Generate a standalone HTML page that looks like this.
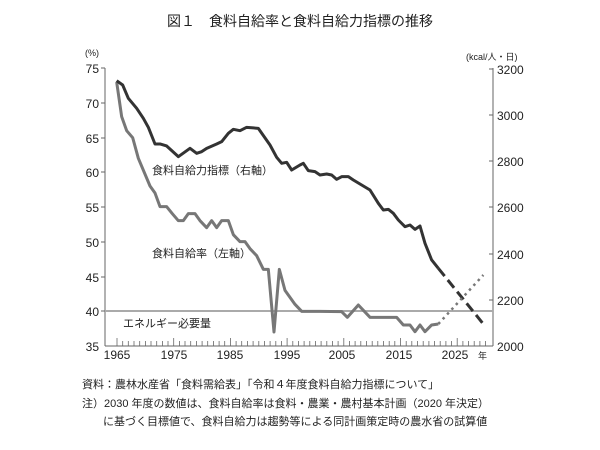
<!DOCTYPE html>
<html><head><meta charset="utf-8"><style>
body{margin:0;background:#fff;}
svg{display:block;font-family:"Liberation Sans","Noto Sans CJK JP",sans-serif;}
</style></head><body>
<svg width="600" height="450" viewBox="0 0 600 450" xmlns="http://www.w3.org/2000/svg">
<rect width="600" height="450" fill="#fff"/>
<text x="300" y="26" text-anchor="middle" font-size="14" fill="#222">図１　食料自給率と食料自給力指標の推移</text>
<line x1="105" y1="68" x2="105" y2="346" stroke="#666" stroke-width="1"/>
<line x1="493" y1="68" x2="493" y2="346" stroke="#666" stroke-width="1"/>
<line x1="105" y1="346" x2="493" y2="346" stroke="#666" stroke-width="1"/>
<g stroke="#666" stroke-width="1">
<line x1="101" y1="68" x2="105" y2="68"/><line x1="101" y1="103" x2="105" y2="103"/><line x1="101" y1="138" x2="105" y2="138"/><line x1="101" y1="172" x2="105" y2="172"/><line x1="101" y1="207" x2="105" y2="207"/><line x1="101" y1="242" x2="105" y2="242"/><line x1="101" y1="277" x2="105" y2="277"/><line x1="101" y1="311" x2="105" y2="311"/>
<line x1="489" y1="69" x2="493" y2="69"/><line x1="489" y1="115" x2="493" y2="115"/><line x1="489" y1="161" x2="493" y2="161"/><line x1="489" y1="207" x2="493" y2="207"/><line x1="489" y1="254" x2="493" y2="254"/><line x1="489" y1="300" x2="493" y2="300"/>
</g>
<path stroke="#666" stroke-width="0.8" fill="none" d="M117.0 338V346M122.7 341V346M128.3 341V346M134.0 341V346M139.7 341V346M145.4 341V346M151.0 341V346M156.7 341V346M162.4 341V346M168.0 341V346M173.7 338V346M179.4 341V346M185.0 341V346M190.7 341V346M196.4 341V346M202.1 341V346M207.7 341V346M213.4 341V346M219.1 341V346M224.7 341V346M230.4 338V346M236.1 341V346M241.7 341V346M247.4 341V346M253.1 341V346M258.8 341V346M264.4 341V346M270.1 341V346M275.8 341V346M281.4 341V346M287.1 338V346M292.8 341V346M298.4 341V346M304.1 341V346M309.8 341V346M315.5 341V346M321.1 341V346M326.8 341V346M332.5 341V346M338.1 341V346M343.8 338V346M349.5 341V346M355.1 341V346M360.8 341V346M366.5 341V346M372.2 341V346M377.8 341V346M383.5 341V346M389.2 341V346M394.8 341V346M400.5 338V346M406.2 341V346M411.8 341V346M417.5 341V346M423.2 341V346M428.9 341V346M434.5 341V346M440.2 341V346M445.9 341V346M451.5 341V346M457.2 338V346M462.9 341V346M468.5 341V346M474.2 341V346M479.9 341V346M485.6 341V346"/>
<g font-size="12" fill="#222" text-anchor="end">
<text x="99" y="73">75</text><text x="99" y="108">70</text><text x="99" y="143">65</text><text x="99" y="177">60</text><text x="99" y="212">55</text><text x="99" y="247">50</text><text x="99" y="282">45</text><text x="99" y="316">40</text><text x="99" y="351">35</text>
</g>
<g font-size="12" fill="#222">
<text x="497" y="74">3200</text><text x="497" y="120">3000</text><text x="497" y="166">2800</text><text x="497" y="212">2600</text><text x="497" y="259">2400</text><text x="497" y="305">2200</text><text x="497" y="351">2000</text>
</g>
<text x="85" y="56" font-size="9" fill="#222">(%)</text>
<text x="466" y="60" font-size="9" fill="#222">(kcal/人・日)</text>
<g font-size="12" fill="#222" text-anchor="middle">
<text x="117" y="359">1965</text><text x="174" y="359">1975</text><text x="230" y="359">1985</text><text x="287" y="359">1995</text><text x="342" y="359">2005</text><text x="399" y="359">2015</text><text x="455" y="359">2025</text>
</g>
<text x="478" y="359" font-size="9" fill="#222">年</text>
<line x1="105" y1="311" x2="493" y2="311" stroke="#aaa" stroke-width="2"/>
<g transform="translate(60,40) scale(0.33333)" fill="none" stroke-linejoin="round">
<polyline stroke="#777" stroke-width="3" vector-effect="non-scaling-stroke" points="170,126 185,230 200,272 218,293 235,355 270,438 285,459 300,500 320,500 337,521 355,542 370,542 385,521 405,521 420,542 440,563 455,542 470,563 485,542 505,542 520,584 540,605 555,605 570,626 590,647 610,688 625,688 642,876 658,688 675,751 690,772 705,793 725,814 780,814 845,815 862,832 895,795 930,832 1010,832 1030,855 1050,855 1065,875 1080,855 1095,875 1115,855 1135,852"/>
<polyline stroke="#333" stroke-width="3" vector-effect="non-scaling-stroke" points="170,122 188,135 205,175 230,205 250,235 265,262 285,312 300,312 320,318 355,350 390,325 410,340 425,335 440,325 470,312 485,305 505,280 520,268 540,272 560,262 595,265 630,315 650,352 665,370 680,367 695,390 720,375 730,370 745,392 765,395 780,405 800,402 815,405 830,418 845,410 865,410 880,420 900,432 930,450 955,490 970,510 985,508 1000,520 1015,540 1035,560 1050,555 1065,568 1080,558 1095,610 1115,660 1135,685"/>
<line x1="1135" y1="685" x2="1270" y2="852" stroke="#333" stroke-width="3" stroke-dasharray="10 5" vector-effect="non-scaling-stroke"/>
<line x1="1135" y1="852" x2="1270" y2="705" stroke="#777" stroke-width="2.5" stroke-dasharray="2.5 4" vector-effect="non-scaling-stroke"/>
</g>
<g font-size="11" fill="#222">
<text x="152" y="174">食料自給力指標（右軸）</text>
<text x="152" y="257">食料自給率（左軸）</text>
<text x="123" y="327">エネルギー必要量</text>
</g>
<g font-size="11" fill="#222">
<text x="82" y="388">資料：農林水産省「食料需給表」「令和４年度食料自給力指標について」</text>
<text x="82" y="407">注）2030 年度の数値は、食料自給率は食料・農業・農村基本計画（2020 年決定）</text>
<text x="103" y="425">に基づく目標値で、食料自給力は趨勢等による同計画策定時の農水省の試算値</text>
</g>
</svg>
</body></html>
